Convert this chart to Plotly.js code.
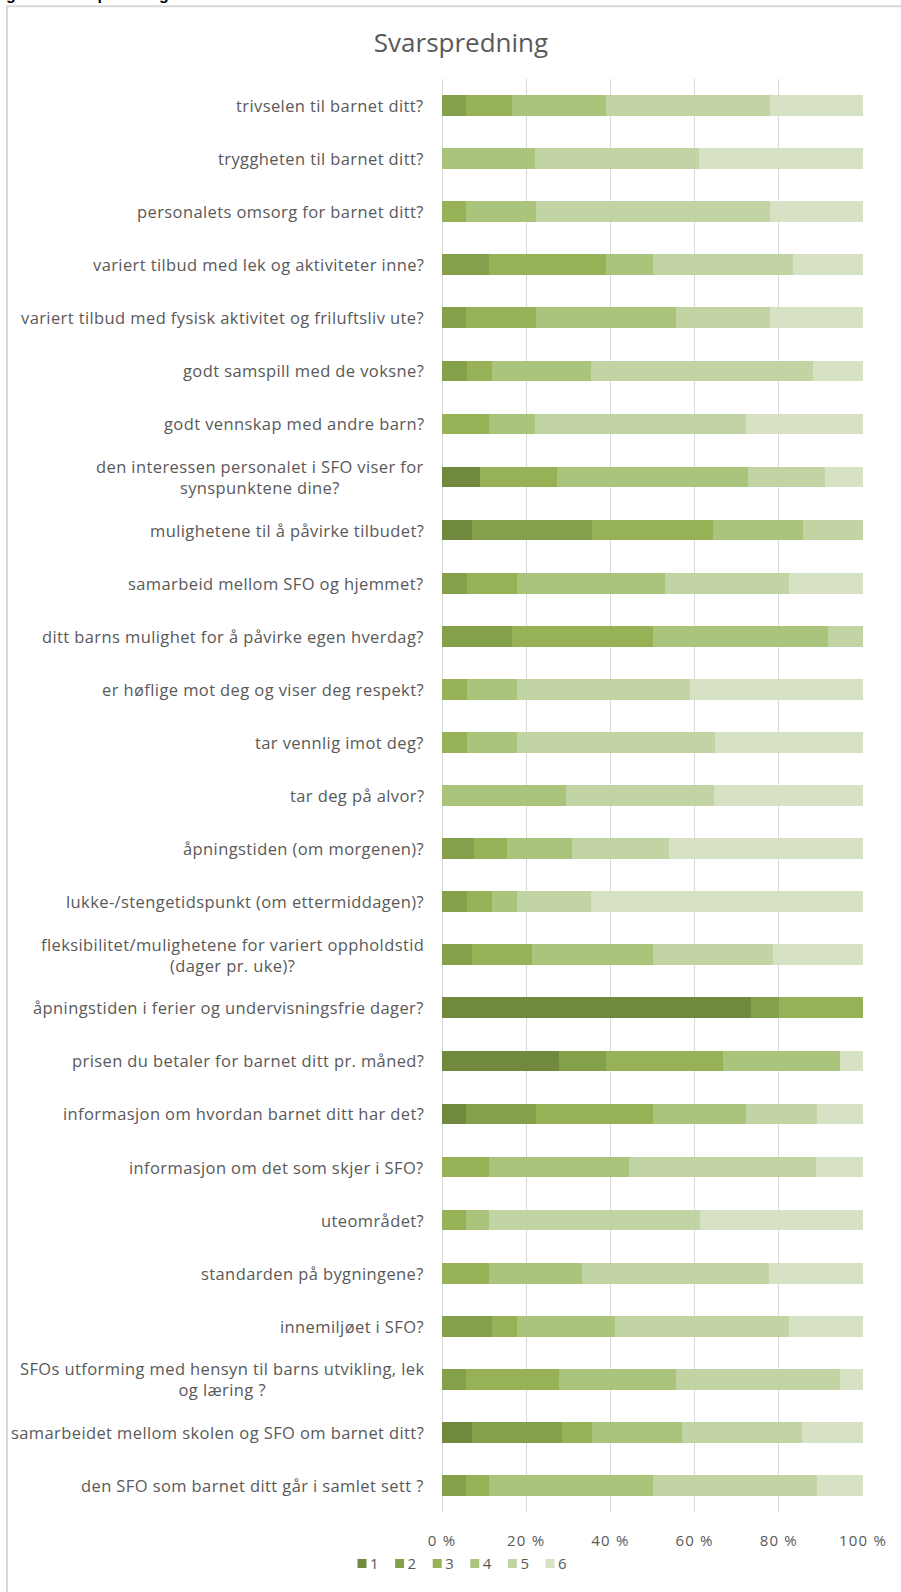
<!DOCTYPE html>
<html>
<head>
<meta charset="utf-8">
<script src="https://cdn.plot.ly/plotly-3.0.1.min.js"></script>
<style>
  html, body { margin: 0; padding: 0; background: #ffffff; }
  #chart { width: 901px; height: 1592px; }
  .annotation-text { letter-spacing: 0.4px; }
  .xtick text { letter-spacing: 1.2px; }
</style>
</head>
<body>
<div id="chart"></div>
<script>
// Categories (top to bottom)
const categories = [
  "trivselen til barnet ditt?",
  "tryggheten til barnet ditt?",
  "personalets omsorg for barnet ditt?",
  "variert tilbud med lek og aktiviteter inne?",
  "variert tilbud med fysisk aktivitet og friluftsliv ute?",
  "godt samspill med de voksne?",
  "godt vennskap med andre barn?",
  "den interessen personalet i SFO viser for<br>synspunktene dine?",
  "mulighetene til å påvirke tilbudet?",
  "samarbeid mellom SFO og hjemmet?",
  "ditt barns mulighet for å påvirke egen hverdag?",
  "er høflige mot deg og viser deg respekt?",
  "tar vennlig imot deg?",
  "tar deg på alvor?",
  "åpningstiden (om morgenen)?",
  "lukke-/stengetidspunkt (om ettermiddagen)?",
  "fleksibilitet/mulighetene for variert oppholdstid<br>(dager pr. uke)?",
  "åpningstiden i ferier og undervisningsfrie dager?",
  "prisen du betaler for barnet ditt pr. måned?",
  "informasjon om hvordan barnet ditt har det?",
  "informasjon om det som skjer i SFO?",
  "uteområdet?",
  "standarden på bygningene?",
  "innemiljøet i SFO?",
  "SFOs utforming med hensyn til barns utvikling, lek<br>og læring ?",
  "samarbeidet mellom skolen og SFO om barnet ditt?",
  "den SFO som barnet ditt går i samlet sett ?"
];

// Series values (percent), one value per category, same order as above
const s1 = [0, 0, 0, 0, 0, 0, 0, 9.1, 7.1, 0, 0, 0, 0, 0, 0, 0, 0, 73.3, 27.8, 5.6, 0, 0, 0, 0, 0, 7.1, 0];
const s2 = [5.6, 0, 0, 11.1, 5.6, 5.9, 0, 0, 28.6, 5.9, 16.7, 0, 0, 0, 7.7, 5.9, 7.1, 6.7, 11.1, 16.7, 0, 0, 0, 11.8, 5.6, 21.4, 5.6];
const s3 = [11.1, 0, 5.6, 27.8, 16.7, 5.9, 11.1, 18.2, 28.6, 11.8, 33.3, 5.9, 5.9, 0, 7.7, 5.9, 14.3, 20.0, 27.8, 27.8, 11.1, 5.6, 11.1, 5.9, 22.2, 7.1, 5.6];
const s4 = [22.2, 22.2, 16.7, 11.1, 33.3, 23.5, 11.1, 45.5, 21.4, 35.3, 41.7, 11.8, 11.8, 29.4, 15.4, 5.9, 28.6, 0, 27.8, 22.2, 33.3, 5.6, 22.2, 23.5, 27.8, 21.4, 38.9];
const s5 = [38.9, 38.9, 55.6, 33.3, 22.2, 52.9, 50.0, 18.2, 14.3, 29.4, 8.3, 41.2, 47.1, 35.3, 23.1, 17.6, 28.6, 0, 0, 16.7, 44.4, 50.0, 44.4, 41.2, 38.9, 28.6, 38.9];
const s6 = [22.2, 38.9, 22.2, 16.7, 22.2, 11.8, 27.8, 9.1, 0, 17.6, 0, 41.2, 35.3, 35.3, 46.2, 64.7, 21.4, 0, 5.6, 11.1, 11.1, 38.9, 22.2, 17.6, 5.6, 14.3, 11.1];

const seriesNames = ["1", "2", "3", "4", "5", "6"];
const seriesColors = ["#71893e", "#84a04b", "#97b157", "#aac47b", "#c2d3a4", "#d7e1c4"];

const xTickVals = [0, 20, 40, 60, 80, 100];
const xTickText = ["0 %", "20 %", "40 %", "60 %", "80 %", "100 %"];

const chartTitle = "Svarspredning";
const headingText = "Figur 5 Svarspredning";

// ---- layout geometry (pixels) ----
const W = 901, H = 1592;
const plotL = 442, plotR = 863, plotT = 79, plotB = 1518;
const pw = plotR - plotL, ph = plotB - plotT;
const px = X => (X - plotL) / pw;
const py = Y => (plotB - Y) / ph;

const allSeries = [s1, s2, s3, s4, s5, s6];
const traces = allSeries.map((vals, i) => ({
  type: "bar",
  orientation: "h",
  name: seriesNames[i],
  x: vals,
  y: categories,
  marker: { color: seriesColors[i], line: { width: 0 } },
  hoverinfo: "x+y+name"
}));

const textColor = "#595959";
const labelFont = "'Open Sans', Lato, sans-serif";

const labelAnnotations = categories.map(c => ({
  xref: "paper", yref: "y",
  x: px(426), y: c,
  xanchor: "right", yanchor: "middle",
  align: "center",
  text: c,
  showarrow: false,
  font: { family: labelFont, size: 16.5, color: textColor }
}));

labelAnnotations.push({
  xref: "paper", yref: "paper",
  x: px(-11), y: py(5),
  xanchor: "left", yanchor: "bottom",
  text: "<b>" + headingText + "</b>",
  showarrow: false,
  font: { family: "'Liberation Sans', Arial, sans-serif", size: 16, color: "#000000" }
});

const layout = {
  width: W, height: H,
  margin: { l: plotL, r: W - plotR, t: plotT, b: H - plotB, pad: 0 },
  paper_bgcolor: "#ffffff",
  plot_bgcolor: "#ffffff",
  barmode: "stack",
  bargap: 0.61,
  showlegend: true,
  title: {
    text: chartTitle,
    font: { family: labelFont, size: 26, color: textColor },
    xref: "container", yref: "container",
    x: 461 / W, xanchor: "center",
    y: 1 - 43 / H, yanchor: "middle"
  },
  xaxis: {
    range: [0, 100],
    tickvals: xTickVals,
    ticktext: xTickText,
    showgrid: true,
    gridcolor: "#d9d9d9",
    gridwidth: 1,
    zeroline: true,
    zerolinecolor: "#d9d9d9",
    zerolinewidth: 1,
    showline: false,
    ticks: "",
    ticklabelstandoff: 18,
    tickfont: { family: labelFont, size: 15, color: textColor },
    fixedrange: true
  },
  yaxis: {
    type: "category",
    autorange: "reversed",
    showticklabels: false,
    showgrid: false,
    zeroline: false,
    showline: false,
    ticks: "",
    fixedrange: true
  },
  legend: {
    orientation: "h",
    traceorder: "normal",
    x: px(463), xanchor: "center",
    y: py(1570), yanchor: "middle",
    font: { family: labelFont, size: 15, color: textColor },
    itemwidth: 30,
    bgcolor: "rgba(0,0,0,0)"
  },
  annotations: labelAnnotations,
  shapes: [{
    type: "rect",
    xref: "paper", yref: "paper",
    x0: px(7), x1: px(910),
    y0: py(1610), y1: py(6),
    line: { color: "#d9d9d9", width: 2 },
    fillcolor: "rgba(0,0,0,0)",
    layer: "below"
  }]
};

// Compact legend: tighter item spacing and smaller swatches (Excel-like)
const legendStep = 37.6;      // px between legend entries
const legendFirstCenter = 362; // px, centre of first swatch
const legendTextX = 28;       // text offset within an entry

Plotly.newPlot("chart", traces, layout, { displayModeBar: false, staticPlot: true }).then(gd => {
  const items = Array.from(gd.querySelectorAll(".legend .traces"));
  if (!items.length) return;
  items.forEach((g, k) => {
    const m = /translate\(\s*([-\d.e]+)[ ,]+([-\d.e]+)\s*\)/.exec(g.getAttribute("transform") || "");
    const y = m ? parseFloat(m[2]) : 0;
    g.setAttribute("transform", "translate(" + (k * legendStep) + "," + y + ")");
    const pts = g.querySelector(".legendpoints");
    if (pts) pts.setAttribute("transform", "translate(20,0) scale(0.75) translate(-20,0)");
    const txt = g.querySelector(".legendtext");
    if (txt) txt.setAttribute("x", legendTextX);
  });
  const firstPts = items[0].querySelector(".legendpoints");
  const r = firstPts.getBoundingClientRect();
  const cx = r.left + r.width / 2;
  const dx = legendFirstCenter - cx;
  items.forEach((g, k) => {
    const m = /translate\(\s*([-\d.e]+)[ ,]+([-\d.e]+)\s*\)/.exec(g.getAttribute("transform"));
    g.setAttribute("transform", "translate(" + (parseFloat(m[1]) + dx) + "," + m[2] + ")");
  });
});
</script>
</body>
</html>
